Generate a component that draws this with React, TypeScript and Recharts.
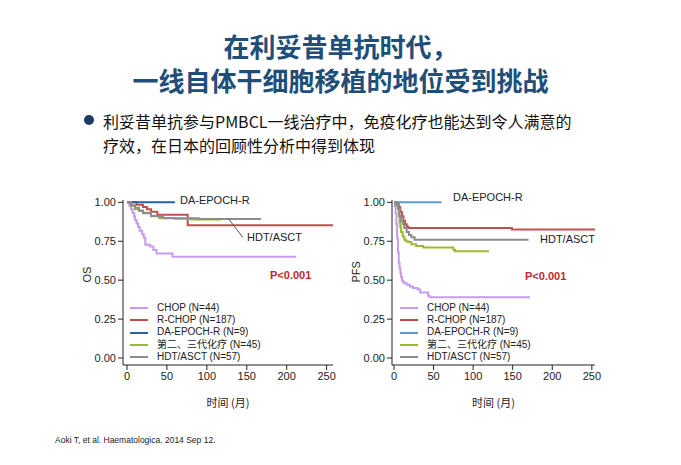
import React from "react";
import { LineChart, Line, XAxis, YAxis, ReferenceLine } from "recharts";

// OS curves (months, survival)
const osChopT = [0, 3, 5, 7, 9, 10, 12, 14, 16, 19, 21, 23, 29, 33, 37, 57, 212];
const osChopS = [1, 0.977, 0.955, 0.932, 0.909, 0.886, 0.864, 0.841, 0.818, 0.795, 0.773, 0.727, 0.716, 0.693, 0.672, 0.65, 0.65];
const osRchopT = [0, 12, 20, 25, 30, 38, 75, 76, 258];
const osRchopS = [1, 0.985, 0.97, 0.955, 0.94, 0.92, 0.92, 0.853, 0.853];
const osDaT = [0, 60];
const osDaS = [1, 1];
const osSecondT = [0, 5, 10, 15, 20, 30, 40, 60, 80, 118];
const osSecondS = [1, 0.978, 0.956, 0.945, 0.933, 0.911, 0.9, 0.895, 0.889, 0.889];
const osHdtT = [0, 5, 10, 15, 20, 30, 45, 90, 168];
const osHdtS = [1, 0.982, 0.965, 0.947, 0.93, 0.912, 0.897, 0.893, 0.893];

// PFS curves
const pfsChopT = [0, 1, 2, 3, 4, 5, 6, 7, 8, 9, 10, 11, 13, 16, 20, 24, 30, 33, 43, 45, 172];
const pfsChopS = [1, 0.977, 0.93, 0.86, 0.77, 0.68, 0.61, 0.58, 0.55, 0.52, 0.5, 0.49, 0.48, 0.47, 0.46, 0.45, 0.44, 0.42, 0.4, 0.39, 0.39];
const pfsRchopT = [0, 4, 6, 8, 10, 12, 14, 16, 18, 149, 258];
const pfsRchopS = [1, 0.99, 0.97, 0.94, 0.91, 0.88, 0.86, 0.845, 0.835, 0.825, 0.825];
const pfsDaT = [0, 60];
const pfsDaS = [1, 1];
const pfsSecondT = [0, 3, 5, 6, 7, 8, 9, 11, 13, 15, 18, 22, 28, 37, 75, 77, 120];
const pfsSecondS = [1, 0.98, 0.955, 0.91, 0.87, 0.84, 0.81, 0.78, 0.76, 0.75, 0.745, 0.73, 0.72, 0.71, 0.695, 0.685, 0.685];
const pfsHdtT = [0, 3, 5, 7, 9, 11, 13, 16, 19, 22, 26, 170];
const pfsHdtS = [1, 0.98, 0.96, 0.91, 0.88, 0.86, 0.835, 0.81, 0.79, 0.775, 0.76, 0.76];

const xTicks = [0, 50, 100, 150, 200, 250];
const yTicks = [0, 0.25, 0.5, 0.75, 1];

const groupNames = ["CHOP (N=44)", "R-CHOP (N=187)", "DA-EPOCH-R (N=9)", "第二、三代化疗 (N=45)", "HDT/ASCT (N=57)"];

const zip = (t: number[], s: number[]) => t.map((v, i) => ({ t: v, s: s[i] }));

const FONT = "'Liberation Sans', Arial, 'Noto Sans CJK SC', sans-serif";
const CJK = "'Noto Sans CJK SC', 'Liberation Sans', sans-serif";

type Curve = { name: string; color: string; data: { t: number; s: number }[] };

// legend is drawn as an overlay so it doesn't eat into the plot area
function LegendBox({ curves, left, top }: { curves: Curve[]; left: number; top: number }) {
  return (
    <div style={{ position: "absolute", left, top, fontFamily: FONT, fontSize: 10, color: "#222", lineHeight: "12.2px" }}>
      {curves.map((c) => (
        <div key={c.name} style={{ display: "flex", alignItems: "center", whiteSpace: "nowrap" }}>
          <span style={{ display: "inline-block", width: 18, height: 2, background: c.color, marginRight: 9 }} />
          {c.name}
        </div>
      ))}
    </div>
  );
}

function KmChart({
  curves,
  yLabel,
  left,
  xDomain,
  width,
  children,
}: {
  curves: Curve[];
  yLabel: string;
  left: number;
  xDomain: [number, number];
  width: number;
  children?: React.ReactNode;
}) {
  return (
    <div style={{ position: "absolute", left, top: 190 }}>
      <LineChart width={width} height={220} margin={{ top: 10, right: 20, bottom: 0, left: 0 }}>
        <XAxis
          type="number"
          dataKey="t"
          domain={xDomain}
          ticks={xTicks}
          allowDataOverflow
          height={45}
          tickSize={5}
          stroke="#222"
          tick={{ fill: "#222", fontSize: 11, fontFamily: FONT }}
          label={{ value: "时间 (月)", position: "insideBottom", offset: 3, fill: "#222", fontSize: 11, fontFamily: CJK }}
        />
        <YAxis
          type="number"
          domain={[-0.045, 1.015]}
          ticks={yTicks}
          width={60}
          tickSize={5}
          stroke="#222"
          tickFormatter={(v: number) => v.toFixed(2)}
          tick={{ fill: "#222", fontSize: 11, fontFamily: FONT }}
          label={{ value: yLabel, angle: -90, position: "insideLeft", offset: 24, fill: "#222", fontSize: 11, fontFamily: FONT }}
        />
        {curves.map((c) => (
          <Line
            key={c.name}
            data={c.data}
            dataKey="s"
            name={c.name}
            type="stepAfter"
            stroke={c.color}
            strokeWidth={2}
            dot={false}
            isAnimationActive={false}
          />
        ))}
        {children}
      </LineChart>
    </div>
  );
}

const palette = ["#c89af2", "#c0504d", "#2660a8", "#9bbb2f", "#8c8c8c"];
const paletteR = ["#c89af2", "#c0504d", "#5b9bd5", "#9bbb2f", "#8c8c8c"];

export default function App() {
  const osCurves: Curve[] = [
    { name: groupNames[0], color: palette[0], data: zip(osChopT, osChopS) },
    { name: groupNames[1], color: palette[1], data: zip(osRchopT, osRchopS) },
    { name: groupNames[2], color: palette[2], data: zip(osDaT, osDaS) },
    { name: groupNames[3], color: palette[3], data: zip(osSecondT, osSecondS) },
    { name: groupNames[4], color: palette[4], data: zip(osHdtT, osHdtS) },
  ];
  const pfsCurves: Curve[] = [
    { name: groupNames[0], color: paletteR[0], data: zip(pfsChopT, pfsChopS) },
    { name: groupNames[1], color: paletteR[1], data: zip(pfsRchopT, pfsRchopS) },
    { name: groupNames[2], color: paletteR[2], data: zip(pfsDaT, pfsDaS) },
    { name: groupNames[3], color: paletteR[3], data: zip(pfsSecondT, pfsSecondS) },
    { name: groupNames[4], color: paletteR[4], data: zip(pfsHdtT, pfsHdtS) },
  ];

  const note = { position: "absolute" as const, fontFamily: FONT, fontSize: 11, color: "#222", whiteSpace: "nowrap" as const };
  const pval = { ...note, color: "#c0282d", fontWeight: 700, fontSize: 11 };

  return (
    <div style={{ position: "absolute", left: 0, top: 0, width: 681, height: 465, background: "#fff", overflow: "hidden" }}>
      <div
        style={{
          position: "absolute",
          left: 0,
          width: 681,
          top: 29,
          textAlign: "center",
          fontFamily: CJK,
          fontWeight: 700,
          fontSize: 26,
          lineHeight: "34px",
          color: "#1f4e79",
        }}
      >
        在利妥昔单抗时代，
        <br />
        一线自体干细胞移植的地位受到挑战
      </div>
      <div style={{ position: "absolute", left: 84, top: 115, width: 10, height: 10, borderRadius: 5, background: "#1f3864" }} />
      <div
        style={{
          position: "absolute",
          left: 103,
          top: 109,
          width: 520,
          fontFamily: CJK,
          fontSize: 16,
          lineHeight: "24px",
          color: "#111",
        }}
      >
        利妥昔单抗参与PMBCL一线治疗中，免疫化疗也能达到令人满意的
        <br />
        疗效，在日本的回顾性分析中得到体现
      </div>

      <KmChart curves={osCurves} yLabel="OS" left={63} xDomain={[-5, 258]} width={290}>
        <ReferenceLine
          segment={[{ x: 127, y: 0.895 }, { x: 145, y: 0.775 }]}
          stroke="#555"
          strokeWidth={1}
          ifOverflow="visible"
        />
      </KmChart>
      <KmChart curves={pfsCurves} yLabel="PFS" left={332} xDomain={[-2.5, 254]} width={283} />

      <LegendBox curves={osCurves} left={130} top={302} />
      <LegendBox curves={pfsCurves} left={400} top={302} />

      <div style={{ ...note, left: 180, top: 194 }}>DA-EPOCH-R</div>
      <div style={{ ...note, left: 247, top: 231 }}>HDT/ASCT</div>
      <div style={{ ...pval, left: 270, top: 269 }}>P&lt;0.001</div>
      <div style={{ ...note, left: 453, top: 191 }}>DA-EPOCH-R</div>
      <div style={{ ...note, left: 540, top: 233 }}>HDT/ASCT</div>
      <div style={{ ...pval, left: 525, top: 270 }}>P&lt;0.001</div>

      <div style={{ position: "absolute", left: 55, top: 435, fontFamily: FONT, fontSize: 8.5, color: "#222" }}>
        Aoki T, et al. Haematologica. 2014 Sep 12.
      </div>
    </div>
  );
}
